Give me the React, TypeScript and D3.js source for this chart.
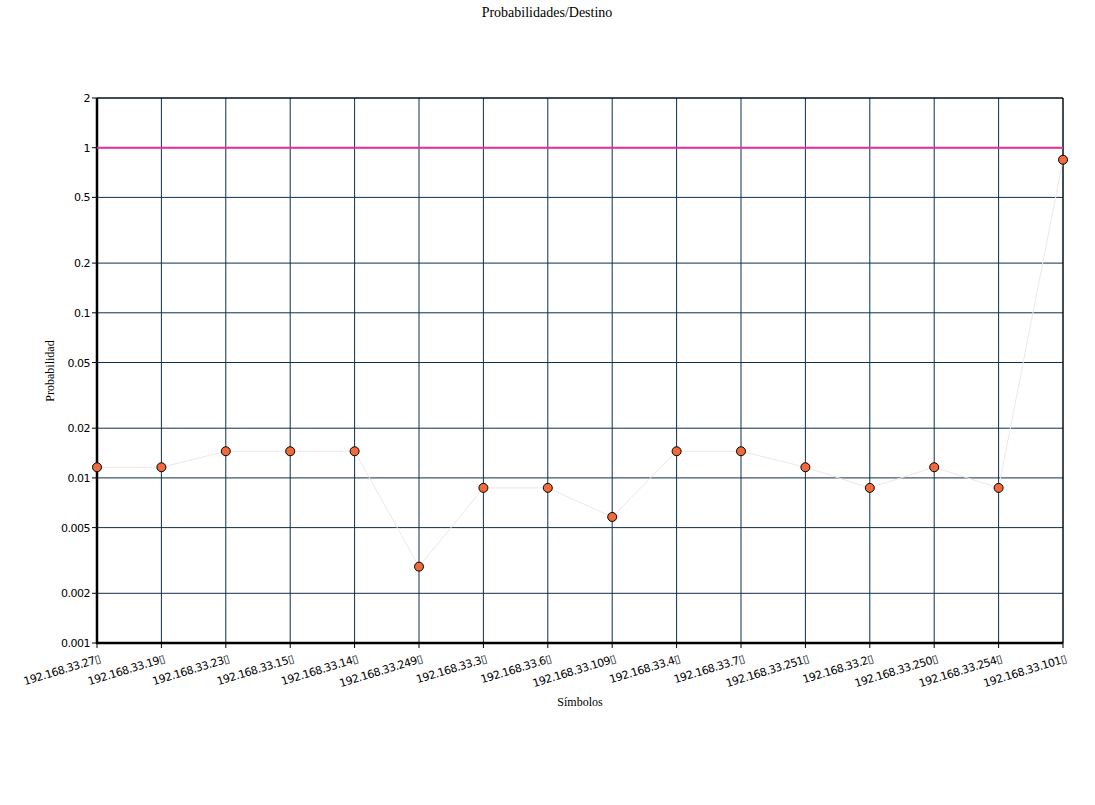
import React from "react";
import * as d3 from "d3";

const categories = ["192.168.33.27","192.168.33.19","192.168.33.23","192.168.33.15","192.168.33.14","192.168.33.249","192.168.33.3","192.168.33.6","192.168.33.109","192.168.33.4","192.168.33.7","192.168.33.251","192.168.33.2","192.168.33.250","192.168.33.254","192.168.33.101"];
const values = [0.0116,0.0116,0.0145,0.0145,0.0145,0.0029,0.0087,0.0087,0.0058,0.0145,0.0145,0.0116,0.0087,0.0116,0.0087,0.845];
const yTicks = [0.001,0.002,0.005,0.01,0.02,0.05,0.1,0.2,0.5,1,2];
const refLine = 1;

export default function App() {
  const W = 1095, H = 805;
  const L = 97, R = 1063, T = 98, B = 643;
  const x = d3.scalePoint<string>().domain(categories).range([L, R]);
  const y = d3.scaleLog().domain([0.001, 2]).range([B, T]);
  const line = d3.line<number>().x((_, i) => x(categories[i])!).y(d => y(d));
  const grid = "#0f2f4a";
  return (
    <svg width={W} height={H} style={{ position: "absolute", left: 0, top: 0, background: "#fff" }}>
      <text x={547} y={17} textAnchor="middle" fontFamily="Liberation Serif" fontSize={14}>Probabilidades/Destino</text>
      {yTicks.map(t => (
        <g key={t}>
          <line x1={L} x2={R} y1={y(t)} y2={y(t)} stroke={grid} strokeWidth={1} />
          <line x1={L - 5} x2={L} y1={y(t)} y2={y(t)} stroke="#000" />
          <text x={L - 7} y={y(t) + 4} textAnchor="end" fontFamily="DejaVu Sans" fontSize={11} letterSpacing={-0.5}>{String(t)}</text>
        </g>
      ))}
      {categories.map(c => (
        <g key={c}>
          <line x1={x(c)} x2={x(c)} y1={T} y2={B} stroke={grid} strokeWidth={1} />
          <line x1={x(c)} x2={x(c)} y1={B} y2={B + 5} stroke="#000" />
          <text transform={`translate(${x(c)! + 4},${B + 19}) rotate(-17)`} textAnchor="end" fontFamily="DejaVu Sans" fontSize={11} letterSpacing={-0.5}>{c + "\u25AF"}</text>
        </g>
      ))}
      <line x1={R} x2={R} y1={T} y2={B} stroke="#000" strokeWidth={1} />
      <line x1={L} x2={R} y1={T} y2={T} stroke="#000" strokeWidth={1} />
      <line x1={L} x2={L} y1={T} y2={B + 1} stroke="#000" strokeWidth={2.5} />
      <line x1={L - 1} x2={R} y1={B} y2={B} stroke="#000" strokeWidth={2.5} />
      <line x1={L} x2={R} y1={y(refLine)} y2={y(refLine)} stroke="#e8309c" strokeWidth={2} />
      <path d={line(values)!} fill="none" stroke="#f0e6e6" strokeWidth={1} />
      {values.map((v, i) => (
        <circle key={i} cx={x(categories[i])} cy={y(v)} r={4.5} fill="#f26a3a" stroke="#000" strokeWidth={1} />
      ))}
      <text x={580} y={706} textAnchor="middle" fontFamily="Liberation Serif" fontSize={12}>Símbolos</text>
      <text transform={`translate(54,371) rotate(-90)`} textAnchor="middle" fontFamily="Liberation Serif" fontSize={12}>Probabilidad</text>
    </svg>
  );
}
